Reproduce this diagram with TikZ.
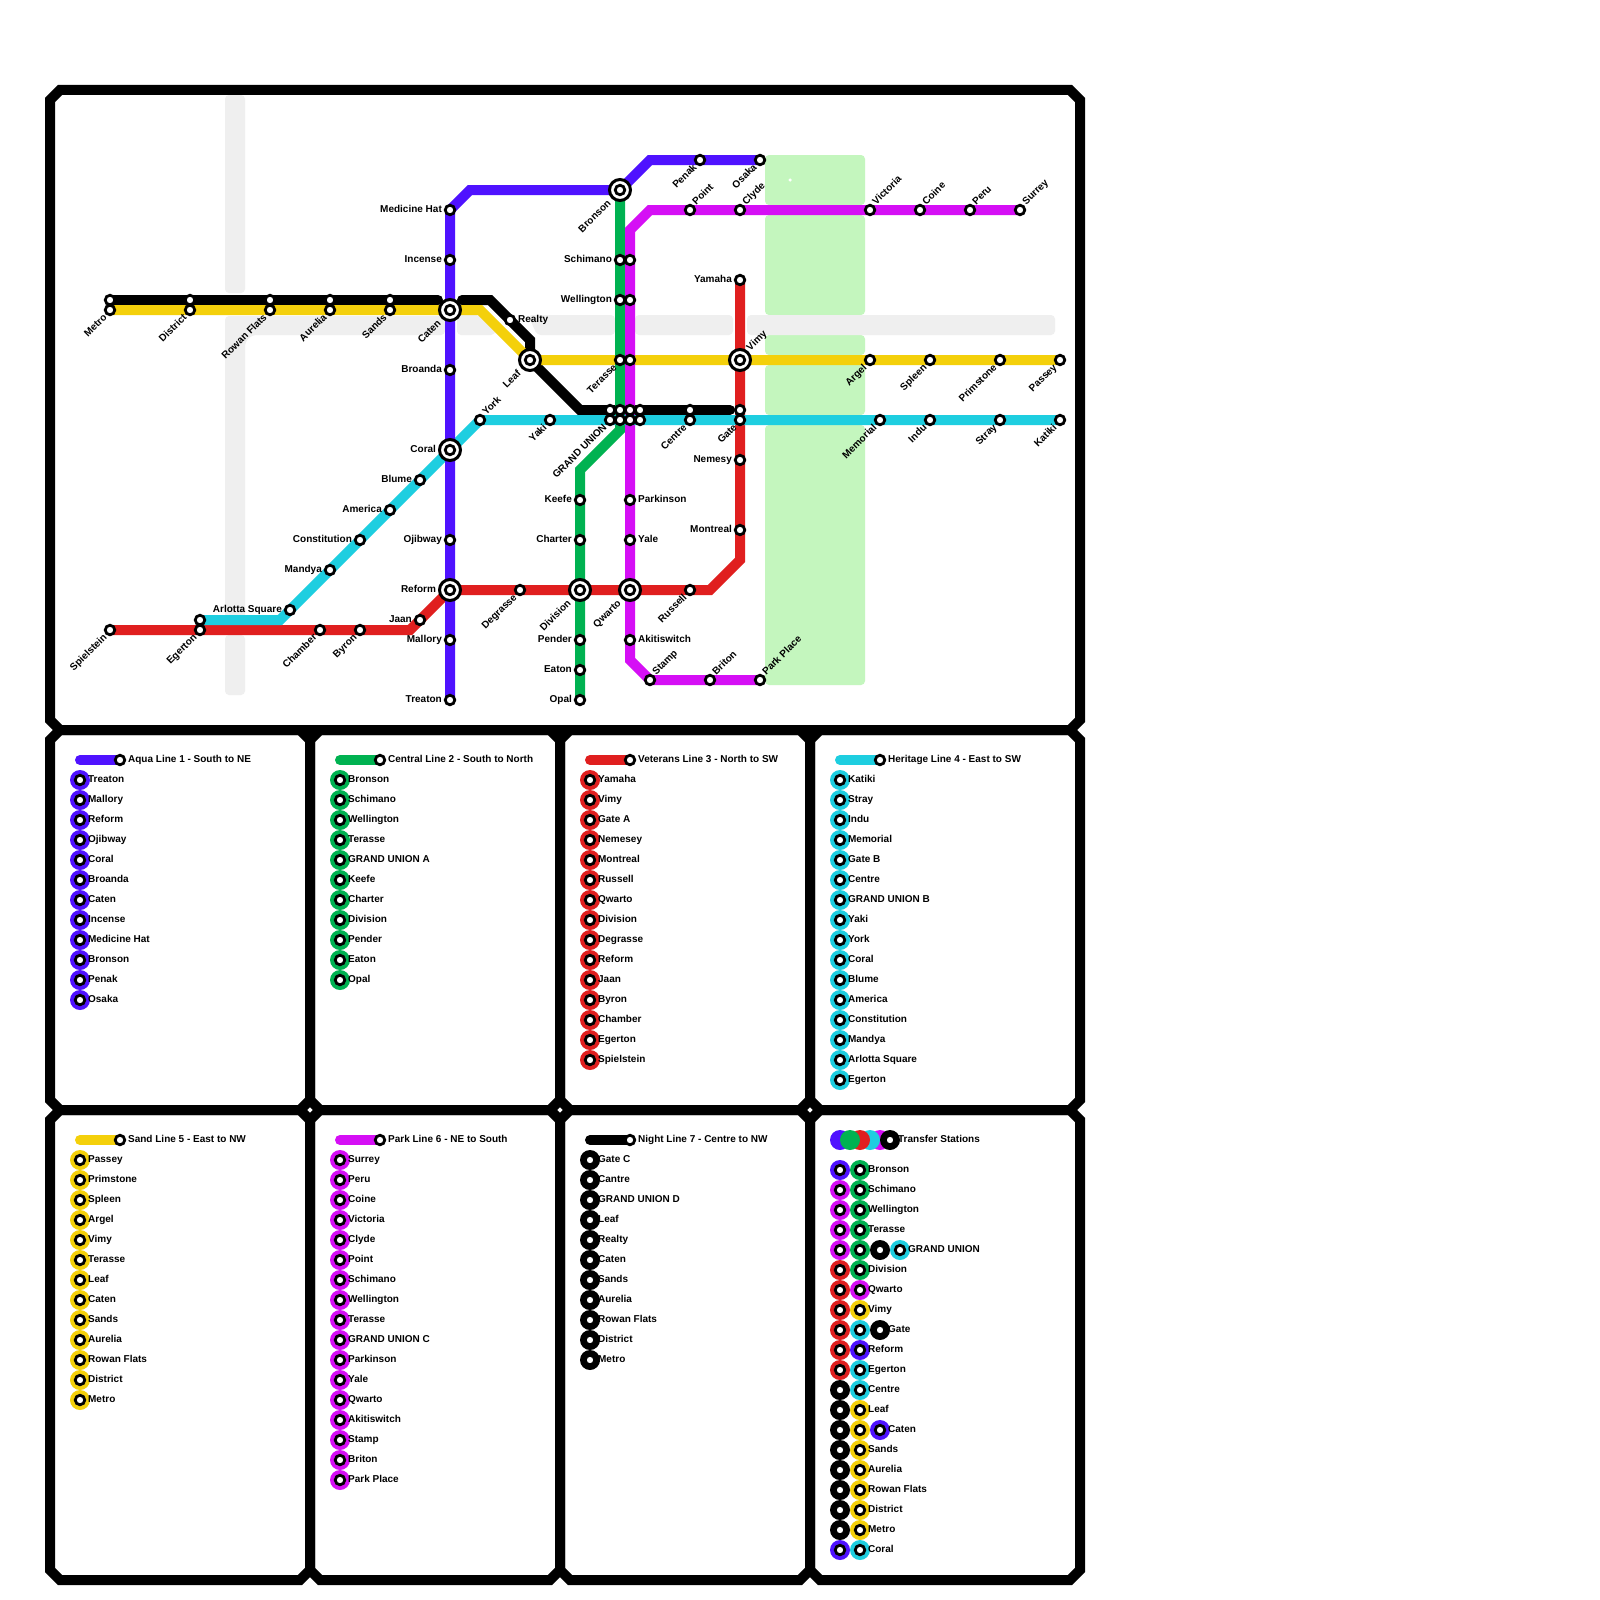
\documentclass[tikz,border=0pt]{standalone}
\usepackage{fontspec}
\setmainfont{Liberation Sans}
\usetikzlibrary{backgrounds}
\definecolor{aqua}{HTML}{4F12FF}
\definecolor{central}{HTML}{00B251}
\definecolor{veterans}{HTML}{E01F1F}
\definecolor{heritage}{HTML}{1ECEE0}
\definecolor{sand}{HTML}{F4D00B}
\definecolor{park}{HTML}{D50FF5}
\definecolor{night}{HTML}{000000}
\definecolor{parkland}{HTML}{C4F6BE}
\definecolor{roadway}{HTML}{EFEFEF}

\newcommand{\legendcol}[6]{
  \coordinate (#1tail) at (#3,#4);
  \node[stn, label={[lr]right:#5}] (#1head) at (#3+40,#4) {};
  \begin{scope}[on background layer]
    \draw[metro=#2] (#1tail) -- (#1head.center);
  \end{scope}
  \foreach \n [count=\i] in {#6} {
    \node[disc=#2] (#1disc\i) at (#3,#4+20*\i) {};
    \node[stn, label={[lr]right:\n}] (#1stn\i) at (#3,#4+20*\i) {};
  }
}

\begin{document}
\begin{tikzpicture}[
  x=1pt, y=-1pt,
  label distance=1.8pt,
  stn/.style={circle, draw=black, fill=white, line width=2.8pt, minimum size=9.5pt, inner sep=0pt},
  hub/.style={circle, draw=black, fill=white, line width=3pt, minimum size=21pt, inner sep=0pt},
  disc/.style={circle, fill=#1, minimum size=20pt, inner sep=0pt},
  metro/.style={line width=10pt, line cap=round, draw=#1},
  frame/.style={line width=10pt, draw=black},
  green patch/.style={fill=parkland, rounded corners=4pt},
  grey patch/.style={fill=roadway, rounded corners=4pt},
  lbl/.style={inner sep=0pt, text=black, font=\fontsize{10}{12}\selectfont\bfseries, text height=7.2pt, text depth=2pt},
  ll/.style={lbl},
  lr/.style={lbl},
  dl/.style={lbl, rotate=45, anchor=east},
  hd/.style={dl, xshift=-2.5pt},
  ur/.style={lbl, rotate=45, anchor=west},
]
\useasboundingbox (0,0) rectangle (1600,1600);

\begin{scope}[on background layer]
  \fill[white] (0,0) rectangle (1600,1600);
  \path[green patch] (765,155) rectangle (865,205);
  \path[green patch] (765,215) rectangle (865,315);
  \path[green patch] (765,335) rectangle (865,355);
  \path[green patch] (765,365) rectangle (865,415);
  \path[green patch] (765,425) rectangle (865,685);
  \path[grey patch] (225,95) rectangle (245,293);
  \path[grey patch] (225,635) rectangle (245,695);
  \path[grey patch] (225,316) -- (445,316) -- (445,335) -- (252,335) -- (245,342) -- (245,620) -- (225,620) -- cycle;
  \path[grey patch] (457,315) -- (480,315) -- (495,330) -- (495,335) -- (457,335) -- cycle;
  \path[grey patch] (528,315) -- (615,315) -- (615,335) -- (537,335) -- cycle;
  \path[grey patch] (635,315) rectangle (733,335);
  \path[grey patch] (747,315) rectangle (1055,335);
\end{scope}

\foreach \xa/\ya/\xb/\yb in {50/90/1080/730, 50/730/310/1110, 310/730/560/1110, 560/730/810/1110, 810/730/1080/1110, 50/1110/310/1580, 310/1110/560/1580, 560/1110/810/1580, 810/1110/1080/1580}
  \draw[frame] (\xa+10,\ya) -- (\xb-10,\ya) -- (\xb,\ya+10) -- (\xb,\yb-10) -- (\xb-10,\yb) -- (\xa+10,\yb) -- (\xa,\yb-10) -- (\xa,\ya+10) -- cycle;

\node[circle, fill=white, minimum size=3.5pt, inner sep=0pt] (speck) at (790,180) {};

\node[hub, label={[hd]below left:Caten}] (caten) at (450,310) {};
\node[hub, label={[ll]left:Coral}] (coral) at (450,450) {};
\node[hub, label={[ll]left:Reform}] (reform) at (450,590) {};
\node[hub, label={[hd]below left:Bronson}] (bronson) at (620,190) {};
\node[hub, label={[hd]below left:Leaf}] (leaf) at (530,360) {};
\node[hub, label={[ur]above right:Vimy}] (vimy) at (740,360) {};
\node[hub, label={[hd]below left:Division}] (division) at (580,590) {};
\node[hub, label={[hd]below left:Qwarto}] (qwarto) at (630,590) {};
\node[stn] at (caten) {};
\node[stn] at (coral) {};
\node[stn] at (reform) {};
\node[stn] at (bronson) {};
\node[stn] at (leaf) {};
\node[stn] at (vimy) {};
\node[stn] at (division) {};
\node[stn] at (qwarto) {};

\node[stn, label={[ll]left:Treaton}] (treaton) at (450,700) {};
\node[stn, label={[ll]left:Mallory}] (mallory) at (450,640) {};
\node[stn, label={[ll]left:Ojibway}] (ojibway) at (450,540) {};
\node[stn, label={[ll]left:Broanda}] (broanda) at (450,370) {};
\node[stn, label={[ll]left:Incense}] (incense) at (450,260) {};
\node[stn, label={[ll]left:Medicine Hat}] (medicine) at (450,210) {};
\node[stn, label={[dl]below left:Penak}] (penak) at (700,160) {};
\node[stn, label={[dl]below left:Osaka}] (osaka) at (760,160) {};

\node[stn, label={[ll]left:Schimano}] (schimano) at (620,260) {};
\node[stn, label={[ll]left:Wellington}] (wellington) at (620,300) {};
\node[stn, label={[dl]below left:Terasse}] (terasse) at (620,360) {};
\node[stn, label={[ll]left:Keefe}] (keefe) at (580,500) {};
\node[stn, label={[ll]left:Charter}] (charter) at (580,540) {};
\node[stn, label={[ll]left:Pender}] (pender) at (580,640) {};
\node[stn, label={[ll]left:Eaton}] (eaton) at (580,670) {};
\node[stn, label={[ll]left:Opal}] (opal) at (580,700) {};

\node[stn, label={[ll]left:Yamaha}] (yamaha) at (740,280) {};
\node[stn, label={[dl]below left:Gate}] (gateb) at (740,420) {};
\node[stn] (gatec) at (740,410) {};
\node[stn, label={[ll]left:Nemesy}] (nemesey) at (740,460) {};
\node[stn, label={[ll]left:Montreal}] (montreal) at (740,530) {};
\node[stn, label={[dl]below left:Russell}] (russell) at (690,590) {};
\node[stn, label={[dl]below left:Degrasse}] (degrasse) at (520,590) {};
\node[stn, label={[ll]left:Jaan}] (jaan) at (420,620) {};
\node[stn, label={[dl]below left:Byron}] (byron) at (360,630) {};
\node[stn, label={[dl]below left:Chamber}] (chamber) at (320,630) {};
\node[stn, label={[dl]below left:Egerton}] (egerton) at (200,630) {};
\node[stn, label={[dl]below left:Spielstein}] (spielstein) at (110,630) {};

\node[stn, label={[dl]below left:Katiki}] (katiki) at (1060,420) {};
\node[stn, label={[dl]below left:Stray}] (stray) at (1000,420) {};
\node[stn, label={[dl]below left:Indu}] (indu) at (930,420) {};
\node[stn, label={[dl]below left:Memorial}] (memorial) at (880,420) {};
\node[stn, label={[dl]below left:Centre}] (centre) at (690,420) {};
\node[stn, label={[dl]below left:Yaki}] (yaki) at (550,420) {};
\node[stn, label={[ur]above right:York}] (york) at (480,420) {};
\node[stn, label={[ll]left:Blume}] (blume) at (420,480) {};
\node[stn, label={[ll]left:America}] (america) at (390,510) {};
\node[stn, label={[ll]left:Constitution}] (constitution) at (360,540) {};
\node[stn, label={[ll]left:Mandya}] (mandya) at (330,570) {};
\node[stn, label={[ll]left:Arlotta Square}] (arlotta) at (290,610) {};
\node[stn] (egertonh) at (200,620) {};

\node[stn, label={[dl]below left:Passey}] (passey) at (1060,360) {};
\node[stn, label={[dl]below left:Primstone}] (primstone) at (1000,360) {};
\node[stn, label={[dl]below left:Spleen}] (spleen) at (930,360) {};
\node[stn, label={[dl]below left:Argel}] (argel) at (870,360) {};
\node[stn, label={[dl]below left:Sands}] (sands) at (390,310) {};
\node[stn, label={[dl]below left:Aurelia}] (aurelia) at (330,310) {};
\node[stn, label={[dl]below left:Rowan Flats}] (rowan) at (270,310) {};
\node[stn, label={[dl]below left:District}] (district) at (190,310) {};
\node[stn, label={[dl]below left:Metro}] (metro) at (110,310) {};

\node[stn, label={[ur]above right:Surrey}] (surrey) at (1020,210) {};
\node[stn, label={[ur]above right:Peru}] (peru) at (970,210) {};
\node[stn, label={[ur]above right:Coine}] (coine) at (920,210) {};
\node[stn, label={[ur]above right:Victoria}] (victoria) at (870,210) {};
\node[stn, label={[ur]above right:Clyde}] (clyde) at (740,210) {};
\node[stn, label={[ur]above right:Point}] (point) at (690,210) {};
\node[stn] (schimanop) at (630,260) {};
\node[stn] (wellingtonp) at (630,300) {};
\node[stn] (terassep) at (630,360) {};
\node[stn, label={[lr]right:Parkinson}] (parkinson) at (630,500) {};
\node[stn, label={[lr]right:Yale}] (yale) at (630,540) {};
\node[stn, label={[lr]right:Akitiswitch}] (akitiswitch) at (630,640) {};
\node[stn, label={[ur]above right:Stamp}] (stamp) at (650,680) {};
\node[stn, label={[ur]above right:Briton}] (briton) at (710,680) {};
\node[stn, label={[ur]above right:Park Place}] (parkplace) at (760,680) {};

\node[stn, label={[lr]right:Realty}] (realty) at (510,320) {};
\node[stn] (sandsn) at (390,300) {};
\node[stn] (aurelian) at (330,300) {};
\node[stn] (rowann) at (270,300) {};
\node[stn] (districtn) at (190,300) {};
\node[stn] (metron) at (110,300) {};
\node[stn] (centren) at (690,410) {};

\node[stn] (gut1) at (610,410) {};
\node[stn] (gut2) at (620,410) {};
\node[stn] (gut3) at (630,410) {};
\node[stn] (gut4) at (640,410) {};
\node[stn, label={[dl]below left:GRAND UNION}] (gul1) at (610,420) {};
\node[stn] (gul2) at (620,420) {};
\node[stn] (gul3) at (630,420) {};
\node[stn] (gul4) at (640,420) {};

\coordinate (aquaa) at (470,190);
\coordinate (aquab) at (650,160);
\coordinate (centrala) at (620,430);
\coordinate (centralb) at (580,470);
\coordinate (veta) at (740,560);
\coordinate (vetb) at (710,590);
\coordinate (vetc) at (410,630);
\coordinate (herb) at (280,620);
\coordinate (sanda) at (480,310);
\coordinate (parka) at (650,210);
\coordinate (parkb) at (630,230);
\coordinate (parkc) at (630,660);
\coordinate (nighta) at (438,300);
\coordinate (nightb) at (462,300);
\coordinate (nightc) at (490,300);
\coordinate (nightd) at (530,340);
\coordinate (nighte) at (580,410);
\coordinate (nightf) at (730,410);

\begin{scope}[on background layer]
  \draw[metro=night] (metron.center) -- (nighta);
  \draw[metro=night] (nightb) -- (nightc) -- (realty.center) -- (nightd) -- (leaf.center) -- (nighte) -- (nightf);
  \draw[metro=veterans] (yamaha.center) -- (vimy.center) -- (gatec.center) -- (gateb.center) -- (nemesey.center) -- (montreal.center) -- (veta) -- (vetb) -- (russell.center) -- (qwarto.center) -- (division.center) -- (degrasse.center) -- (reform.center) -- (jaan.center) -- (vetc) -- (byron.center) -- (chamber.center) -- (egerton.center) -- (spielstein.center);
  \draw[metro=sand] (passey.center) -- (primstone.center) -- (spleen.center) -- (argel.center) -- (vimy.center) -- (leaf.center) -- (sanda) -- (caten.center) -- (sands.center) -- (aurelia.center) -- (rowan.center) -- (district.center) -- (metro.center);
  \draw[metro=central] (bronson.center) -- (schimano.center) -- (wellington.center) -- (terasse.center) -- (gul2.center) -- (centrala) -- (centralb) -- (keefe.center) -- (charter.center) -- (division.center) -- (pender.center) -- (eaton.center) -- (opal.center);
  \draw[metro=park] (surrey.center) -- (peru.center) -- (coine.center) -- (victoria.center) -- (clyde.center) -- (point.center) -- (parka) -- (parkb) -- (schimanop.center) -- (wellingtonp.center) -- (terassep.center) -- (gul3.center) -- (parkinson.center) -- (yale.center) -- (qwarto.center) -- (akitiswitch.center) -- (parkc) -- (stamp.center) -- (briton.center) -- (parkplace.center);
  \draw[metro=heritage] (katiki.center) -- (stray.center) -- (indu.center) -- (memorial.center) -- (gateb.center) -- (centre.center) -- (gul4.center) -- (gul1.center) -- (yaki.center) -- (york.center) -- (coral.center) -- (blume.center) -- (america.center) -- (constitution.center) -- (mandya.center) -- (arlotta.center) -- (herb) -- (egertonh.center);
  \draw[metro=aqua] (treaton.center) -- (mallory.center) -- (reform.center) -- (ojibway.center) -- (coral.center) -- (broanda.center) -- (caten.center) -- (incense.center) -- (medicine.center) -- (aquaa) -- (bronson.center) -- (aquab) -- (penak.center) -- (osaka.center);
\end{scope}

\legendcol{aq}{aqua}{80}{760}{Aqua Line 1 - South to NE}{Treaton,Mallory,Reform,Ojibway,Coral,Broanda,Caten,Incense,Medicine Hat,Bronson,Penak,Osaka}
\legendcol{ce}{central}{340}{760}{Central Line 2 - South to North}{Bronson,Schimano,Wellington,Terasse,GRAND UNION A,Keefe,Charter,Division,Pender,Eaton,Opal}
\legendcol{ve}{veterans}{590}{760}{Veterans Line 3 - North to SW}{Yamaha,Vimy,Gate A,Nemesey,Montreal,Russell,Qwarto,Division,Degrasse,Reform,Jaan,Byron,Chamber,Egerton,Spielstein}
\legendcol{he}{heritage}{840}{760}{Heritage Line 4 - East to SW}{Katiki,Stray,Indu,Memorial,Gate B,Centre,GRAND UNION B,Yaki,York,Coral,Blume,America,Constitution,Mandya,Arlotta Square,Egerton}
\legendcol{sa}{sand}{80}{1140}{Sand Line 5 - East to NW}{Passey,Primstone,Spleen,Argel,Vimy,Terasse,Leaf,Caten,Sands,Aurelia,Rowan Flats,District,Metro}
\legendcol{pa}{park}{340}{1140}{Park Line 6 - NE to South}{Surrey,Peru,Coine,Victoria,Clyde,Point,Schimano,Wellington,Terasse,GRAND UNION C,Parkinson,Yale,Qwarto,Akitiswitch,Stamp,Briton,Park Place}
\legendcol{ni}{night}{590}{1140}{Night Line 7 - Centre to NW}{Gate C,Cantre,GRAND UNION D,Leaf,Realty,Caten,Sands,Aurelia,Rowan Flats,District,Metro}

\node[disc=aqua] (keya) at (840,1140) {};
\node[disc=park] (keye) at (880,1140) {};
\node[disc=heritage] (keyd) at (870,1140) {};
\node[disc=veterans] (keyc) at (860,1140) {};
\node[disc=central] (keyb) at (850,1140) {};
\node[disc=night] (keyf) at (890,1140) {};
\node[stn, label={[lr]right:Transfer Stations}] (keys) at (890,1140) {};

\foreach \y/\ca/\cb/\n in {1170/aqua/central/Bronson, 1190/park/central/Schimano, 1210/park/central/Wellington, 1230/park/central/Terasse, 1250/park/central/, 1270/veterans/central/Division, 1290/veterans/park/Qwarto, 1310/veterans/sand/Vimy, 1330/veterans/heritage/, 1350/veterans/aqua/Reform, 1370/veterans/heritage/Egerton, 1390/night/heritage/Centre, 1410/night/sand/Leaf, 1430/night/sand/, 1450/night/sand/Sands, 1470/night/sand/Aurelia, 1490/night/sand/Rowan Flats, 1510/night/sand/District, 1530/night/sand/Metro, 1550/aqua/heritage/Coral} {
  \node[disc=\ca] (tra\y) at (840,\y) {};
  \node[stn] (tsa\y) at (840,\y) {};
  \node[disc=\cb] (trb\y) at (860,\y) {};
  \node[stn, label={[lr]right:\n}] (tsb\y) at (860,\y) {};
}
\node[disc=night] (trc1250) at (880,1250) {};
\node[stn] (tsc1250) at (880,1250) {};
\node[disc=heritage] (trd1250) at (900,1250) {};
\node[stn, label={[lr]right:GRAND UNION}] (tsd1250) at (900,1250) {};
\node[disc=night] (trc1330) at (880,1330) {};
\node[stn, label={[lr]right:Gate}] (tsc1330) at (880,1330) {};
\node[disc=aqua] (trc1430) at (880,1430) {};
\node[stn, label={[lr]right:Caten}] (tsc1430) at (880,1430) {};

\end{tikzpicture}
\end{document}
